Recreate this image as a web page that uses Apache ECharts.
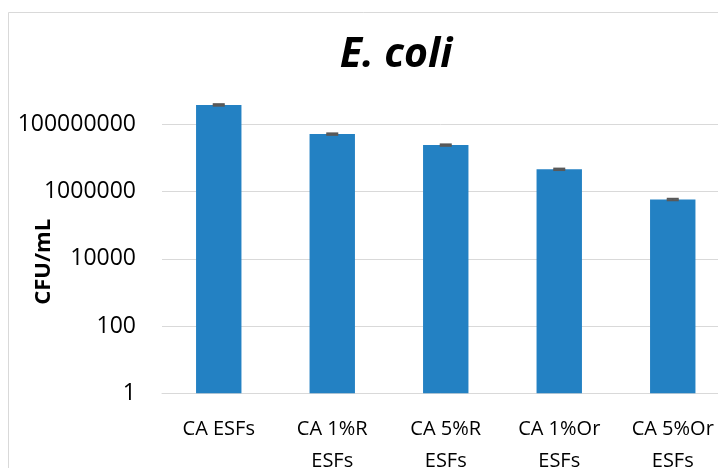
<!DOCTYPE html>
<html><head><meta charset="utf-8">
<script src="https://cdn.jsdelivr.net/npm/echarts@6/dist/echarts.min.js"></script>
<style>html,body{margin:0;padding:0;background:#fff}#c{width:718px;height:468px}</style>
</head><body><div id="c"></div>
<script>
const categories = ['CA ESFs', 'CA 1%R ESFs', 'CA 5%R ESFs', 'CA 1%Or ESFs', 'CA 5%Or ESFs'];
const values = [3.83e8, 5.18e7, 2.44e7, 4.64e6, 5.86e5];
const errors = [2.0e7, 2.6e6, 1.2e6, 2.3e5, 3.0e4];
const yTickLabels = ['1', '100', '10000', '1000000', '100000000'];

const chart = echarts.init(document.getElementById('c'));
const FONT = '"Open Sans", sans-serif';
chart.setOption({
  animation: false,
  backgroundColor: '#fff',
  title: {
    text: 'E. coli', left: 391, top: 29.5, textAlign: 'center',
    textStyle: { fontFamily: FONT, fontSize: 41, fontWeight: 'bold', fontStyle: 'italic', color: '#000' }
  },
  graphic: [{
    type: 'rect', shape: { x: 8.5, y: 12.5, width: 800, height: 600 },
    style: { fill: null, stroke: '#d9d9d9', lineWidth: 1 }, silent: true, z: -10
  }],
  grid: { left: 162, width: 567.5, top: 57.3, bottom: 74.7, containLabel: false, outerBoundsMode: 'none' },
  xAxis: {
    type: 'category', data: categories,
    axisLine: { lineStyle: { color: '#d9d9d9', width: 1 } },
    axisTick: { show: false },
    axisLabel: {
      interval: 0, margin: 20, fontFamily: FONT, fontSize: 20, color: '#000', lineHeight: 32,
      formatter: function (s) { const p = s.split(' '); return p.length > 2 ? p.slice(0, 2).join(' ') + '\n' + p.slice(2).join(' ') : s; }
    }
  },
  yAxis: {
    type: 'log', logBase: 100, min: 1, max: 1e10,
    name: 'CFU/mL', nameLocation: 'middle', nameGap: 107, nameRotate: 90, nameMoveOverlap: false,
    nameTextStyle: { fontFamily: FONT, fontSize: 22, fontWeight: 'bold', color: '#000', padding: [0, 73, 0, 0] },
    axisLine: { show: false }, axisTick: { show: false },
    splitLine: { show: true, showMaxLine: false, lineStyle: { color: '#d9d9d9', width: 1 } },
    axisLabel: {
      margin: 26, fontFamily: FONT, fontSize: 23, color: '#000',
      formatter: function (v) { const i = Math.round(Math.log10(v) / 2); return yTickLabels[i] !== undefined ? yTickLabels[i] : ''; }
    }
  },
  series: [{
    type: 'bar', data: values, barWidth: '40%',
    itemStyle: { color: '#2381c3' }
  }, {
    type: 'custom', z: 5,
    data: values.map((v, i) => [i, v - errors[i], v + errors[i]]),
    renderItem: function (params, api) {
      const lo = api.coord([api.value(0), api.value(1)]);
      const hi = api.coord([api.value(0), api.value(2)]);
      const hw = 6;
      const st = { stroke: '#595959', lineWidth: 2 };
      return { type: 'group', children: [
        { type: 'line', shape: { x1: hi[0], y1: hi[1], x2: lo[0], y2: lo[1] }, style: st },
        { type: 'line', shape: { x1: hi[0] - hw, y1: hi[1], x2: hi[0] + hw, y2: hi[1] }, style: st },
        { type: 'line', shape: { x1: lo[0] - hw, y1: lo[1], x2: lo[0] + hw, y2: lo[1] }, style: st }
      ]};
    }
  }]
});
</script></body></html>
